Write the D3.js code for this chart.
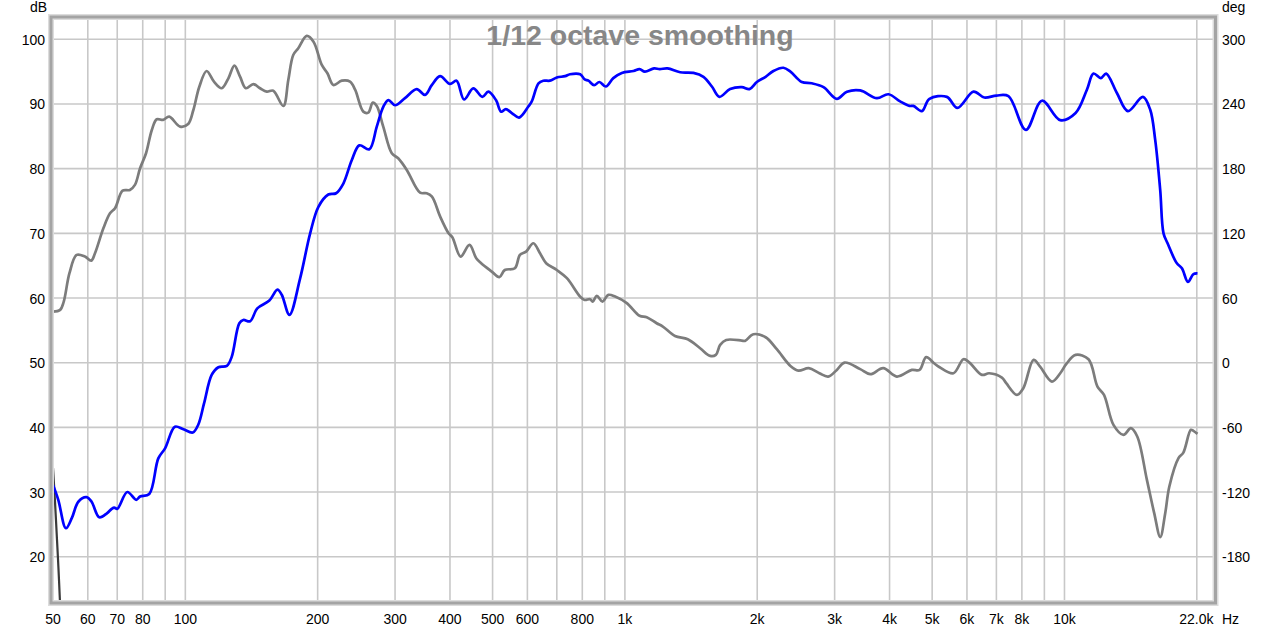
<!DOCTYPE html>
<html><head><meta charset="utf-8">
<script src="https://cdn.jsdelivr.net/npm/d3@7"></script>
<style>
body{margin:0;background:#fff}
svg{display:block}
text{font-family:"Liberation Sans",Arial,sans-serif}
</style>
</head><body>
<svg id="c" width="1280" height="632"></svg>
<script>
// ---- data ----
const splFreq = [50,51.4,53.5,55.2,57.1,59.6,61.2,63.7,66.3,68,68.9,70,73.8,77.3,78.9,82.8,86.8,90,94.7,99,104,107,110.3,114.8,118.9,124.3,127.5,132.7,135.5,140.4,145.8,155.3,162,165.7,172.5,182.4,192.3,200.8,211.5,220.3,228.8,239.1,248.8,262.2,272.6,282.2,289.7,300,316,336,351,363.6,379.7,400,414,430.6,452,474,489,509,523,536,553,574.5,603,614,636,652,675,700,731,750,791,810,826,851,875,905,941,984,1046,1080,1110,1165,1200,1250,1336,1432,1509,1577,1640,1735,1845,1920,1996,2090,2177,2294,2380,2526,2660,2830,3035,3200,3430,3742,3976,4228,4440,4530,4737,4930,5400,5706,6209,6570,7000,7457,8170,8886,9780,10600,11246,11640,12100,12440,13160,13940,15080,15670,16086,16510,16800,17150,18000,18500,19090,19650,20070];
const splDb = [31.1,28.8,24.4,26.0,28.5,29.2,28.5,26.1,26.7,27.4,27.6,27.4,30.0,28.8,29.3,29.7,35.2,36.8,40.1,39.7,39.2,40.4,43.7,48.1,49.3,49.5,50.9,56.1,56.6,56.4,58.4,59.6,61.3,60.5,57.4,63.0,70.0,74.1,76.0,76.2,77.7,81.3,83.6,83.0,86.5,89.6,90.6,89.8,90.9,92.3,91.4,92.9,94.3,93.1,93.6,90.7,92.4,91.1,91.9,90.6,88.8,89.2,88.6,87.9,89.6,90.4,93.2,93.6,93.6,94.1,94.3,94.6,94.6,93.8,93.6,92.9,93.4,92.7,94.0,94.8,95.1,95.4,95.0,95.5,95.4,95.5,94.9,94.8,94.2,92.7,91.1,92.3,92.6,92.3,93.4,94.2,95.1,95.6,95.0,93.4,93.2,92.6,90.8,91.9,92.1,90.9,91.5,90.4,89.7,89.7,88.9,90.8,91.1,89.4,91.9,91.0,91.3,91.2,86.0,90.5,87.5,88.6,92.2,94.7,94.0,94.7,91.7,88.9,91.1,89.1,84.4,76.7,70.0,68.5,65.4,64.6,62.5,63.7,63.8];

const phaseFreq = [50,51.9,52.9,54.5,56.6,59.1,61.1,62.3,65.1,67.4,69.2,72,74.8,76.8,78.9,81.4,83.9,86.1,89,91.9,97.3,101.5,104.3,107.6,111.8,116.2,121,125.3,129.3,133.2,137.3,142.8,147.9,153.2,158.5,167.1,171.5,176,180.7,188.9,195.7,204.4,210.5,217.2,227,237,243.5,254,260.7,267,272.6,282,294.9,305,319,342,354,364,380,397,405,423,443,459,471,498,518,533,562,577,596,619,641,662,700,738,791,810,833,845,863,889,917,950,1010,1080,1121,1181,1220,1300,1390,1483,1563,1610,1647,1700,1845,1876,1960,2090,2216,2380,2481,2620,2770,2900,3035,3160,3430,3614,3870,4155,4495,4680,4846,5050,5200,5590,5891,6080,6490,6740,7205,7370,7793,8060,8505,8800,9363,9780,10100,10600,11342,11886,12300,12925,13620,14160,14640,15400,16000,16515,16950,17320,18170,18640,19390,19650,20070];
const phaseDeg = [47.4,49,56.7,83.0,100,98.4,94.7,101.5,124.7,138.6,143.3,159.6,160.2,164.9,180.4,194.3,215.9,225.8,225.2,228.2,219,221.4,234.4,256,270.6,260.7,254.6,263.8,275.5,265.3,254.6,258.5,254.6,251.4,252.3,238.1,262.3,285.4,291.7,303.1,297.8,276.2,268.5,257.6,261.6,260.7,253,232.9,232,241.2,238.1,219,194.3,189.6,178.8,157.7,157.2,154,135.5,120.1,116.4,98.4,109.2,96.9,92.3,84.5,79.3,86.0,87.6,100,103,110.8,101.5,92.3,86,78.4,61.3,58.2,58.9,56.7,62,56.7,62.9,61.3,55.2,43.5,42.2,36.6,33.5,24.8,21.8,13.4,6.3,7.2,16.5,21.1,20.5,20.2,26.4,23.6,12.5,-3,-7.4,-5.1,-9.8,-12.9,-6.7,0.1,-6,-10.7,-5.1,-12.9,-6.7,-6.7,5.1,-0.5,-4.2,-9.8,3.2,0.1,-11.3,-9.8,-13.8,-19,-29.9,-23.7,2.6,-3.6,-17.5,-9.8,-1.1,7.2,3.2,-22.2,-29.9,-57.7,-67,-60.8,-68.5,-108.7,-139.6,-161.8,-139.6,-114.9,-88.6,-83.4,-62.3,-63.3,-66];

const wrapFreq = [50,50.5,51.06,51.47,51.86,52.1];
const wrapDeg = [-97.6,-127.3,-164.4,-192.2,-221.9,-240];

const xGrid = [60,70,80,90,100,200,300,400,500,600,700,800,900,1000,2000,3000,4000,5000,6000,7000,8000,9000,10000,20000];
const xLabelVals = [50,60,70,80,100,200,300,400,500,600,800,1000,2000,3000,4000,5000,6000,7000,8000,10000];
const xLabelText = ["50","60","70","80","100","200","300","400","500","600","800","1k","2k","3k","4k","5k","6k","7k","8k","10k"];
const dbTicks = [20,30,40,50,60,70,80,90,100];
const degTicks = [-180,-120,-60,0,60,120,180,240,300];
const title = "1/12 octave smoothing";

// ---- layout ----
const L = 53, R = 1215, T = 17.5, B = 602.5;
const svg = d3.select("#c");
const x = d3.scaleLog().domain([50, 22000]).range([L, R]);
const y = d3.scaleLinear().domain([12.92, 103.37]).range([B, T]);
const yp = d3.scaleLinear().domain([(12.92-50)*6, (103.37-50)*6]).range([B, T]);

svg.append("defs").append("clipPath").attr("id","clip")
  .append("rect").attr("x",L-1).attr("y",T).attr("width",R-L+1).attr("height",B-T);

// grid
const g = svg.append("g");
g.selectAll(".vg").data(xGrid).join("line")
  .attr("x1",d=>x(d)).attr("x2",d=>x(d)).attr("y1",T).attr("y2",B)
  .attr("stroke","#c8c8c8").attr("stroke-width",1.6);
g.selectAll(".hg").data(dbTicks).join("line")
  .attr("x1",L).attr("x2",R).attr("y1",d=>y(d)).attr("y2",d=>y(d))
  .attr("stroke","#c8c8c8").attr("stroke-width",1.6);

// title
svg.append("text").attr("x",640).attr("y",45).attr("text-anchor","middle")
  .attr("font-size",28.5).attr("font-weight","bold").attr("fill","#878787")
  .attr("stroke","#ffffff").attr("stroke-width",0).text(title);

// lines
const plot = svg.append("g").attr("clip-path","url(#clip)");
const lineSpl = d3.line().x(d=>x(d[0])).y(d=>y(d[1])).curve(d3.curveCatmullRom.alpha(0.5));
const linePh = d3.line().x(d=>x(d[0])).y(d=>yp(d[1])).curve(d3.curveCatmullRom.alpha(0.5));

plot.append("path").datum(wrapFreq.map((f,i)=>[f,wrapDeg[i]]))
  .attr("d",linePh).attr("fill","none").attr("stroke","#3a3a3a").attr("stroke-width",2.2);
plot.append("path").datum(phaseFreq.map((f,i)=>[f,phaseDeg[i]]))
  .attr("d",linePh).attr("fill","none").attr("stroke","#7c7c7c").attr("stroke-width",2.7)
  .attr("stroke-linejoin","round");
plot.append("path").datum(splFreq.map((f,i)=>[f,splDb[i]]))
  .attr("d",lineSpl).attr("fill","none").attr("stroke","#0000ff").attr("stroke-width",2.7)
  .attr("stroke-linejoin","round");

// frame
svg.append("rect").attr("x",L-2).attr("y",T-0.5).attr("width",R-L+2.5).attr("height",B-T+1)
  .attr("fill","none").attr("stroke","#dcdcdc").attr("stroke-width",6);
svg.append("rect").attr("x",L-2).attr("y",T-0.5).attr("width",R-L+2.5).attr("height",B-T+1)
  .attr("fill","none").attr("stroke","#a4a4a4").attr("stroke-width",3);

// axes labels
const fs = 14;
svg.append("g").selectAll("text").data(dbTicks).join("text")
  .attr("x",45).attr("y",d=>y(d)+5.5).attr("text-anchor","end").attr("font-size",fs).attr("fill","#000")
  .text(d=>d);
svg.append("g").selectAll("text").data(degTicks).join("text")
  .attr("x",1222).attr("y",d=>yp(d)+5.5).attr("text-anchor","start").attr("font-size",fs).attr("fill","#000")
  .text(d=>d);
svg.append("g").selectAll("text").data(xLabelVals).join("text")
  .attr("x",d=>x(d)).attr("y",624).attr("text-anchor","middle").attr("font-size",fs).attr("fill","#000")
  .text((d,i)=>xLabelText[i]);
svg.append("text").attr("x",1213.5).attr("y",624).attr("text-anchor","end").attr("font-size",fs).text("22.0k");
svg.append("text").attr("x",1222).attr("y",624).attr("font-size",fs).text("Hz");
svg.append("text").attr("x",47).attr("y",12).attr("text-anchor","end").attr("font-size",fs).text("dB");
svg.append("text").attr("x",1222).attr("y",12).attr("font-size",fs).text("deg");
</script>
</body></html>
